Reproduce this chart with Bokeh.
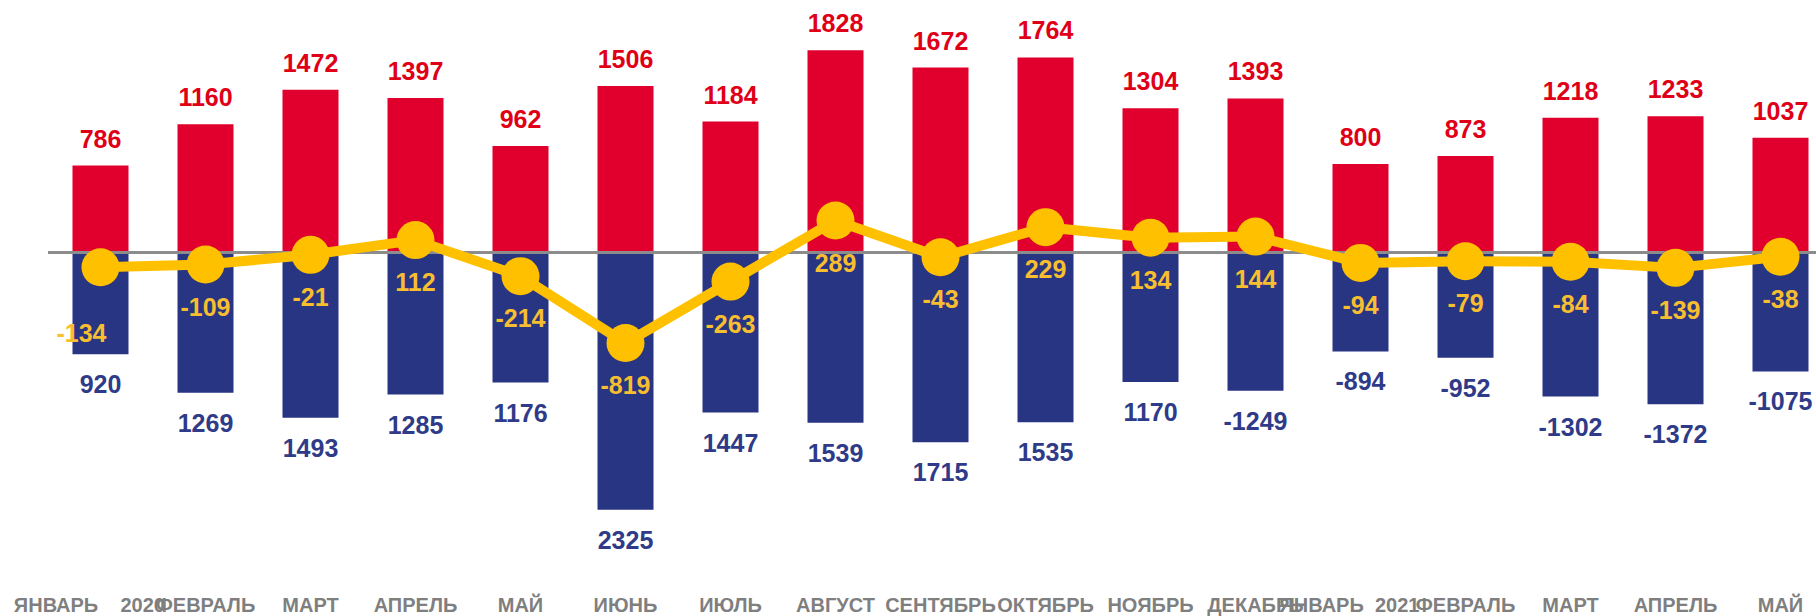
from bokeh.plotting import figure
from bokeh.models import ColumnDataSource, Range1d
from bokeh.core.properties import value
from bokeh.embed import file_html
from bokeh.resources import INLINE

# ---- data ----
months = ["ЯНВАРЬ 2020", "ФЕВРАЛЬ", "МАРТ", "АПРЕЛЬ", "МАЙ", "ИЮНЬ", "ИЮЛЬ", "АВГУСТ",
          "СЕНТЯБРЬ", "ОКТЯБРЬ", "НОЯБРЬ", "ДЕКАБРЬ", "ЯНВАРЬ 2021", "ФЕВРАЛЬ", "МАРТ",
          "АПРЕЛЬ", "МАЙ"]
exports = [786, 1160, 1472, 1397, 962, 1506, 1184, 1828, 1672, 1764, 1304, 1393, 800, 873,
           1218, 1233, 1037]
imports = [-920, -1269, -1493, -1285, -1176, -2325, -1447, -1539, -1715, -1535, -1170, -1249,
           -894, -952, -1302, -1372, -1075]
import_labels = ["920", "1269", "1493", "1285", "1176", "2325", "1447", "1539", "1715", "1535",
                 "1170", "-1249", "-894", "-952", "-1302", "-1372", "-1075"]
balance = [-134, -109, -21, 112, -214, -819, -263, 289, -43, 229, 134, 144, -94, -79, -84,
           -139, -38]

# ---- styling / layout ----
W, H = 1816, 616
PX_PER_UNIT = 0.1106
ZERO_PX = 252          # zero line, px from top of frame
CAT_PX = 105           # px per category
FIRST_PX = 100         # centre of first category, px from left of frame
FONT = value("Liberation Sans")

y_end = ZERO_PX / PX_PER_UNIT
y_start = y_end - H / PX_PER_UNIT
x_start = -FIRST_PX / CAT_PX
x_end = x_start + W / CAT_PX

n = len(months)
xs = list(range(n))

# spacing (non-breaking spaces: inner gap, trailing pad) for the two-word labels
label_pad = {0: (4, 4), 12: (2, 4)}

def disp(i, lbl):
    if i in label_pad:
        gap, trail = label_pad[i]
        return lbl.replace(" ", "\u00a0" * gap) + "\u00a0" * trail
    return lbl

# balance label nudges (px): first label sits lower-left
bal_dx = [-19] + [0] * (n - 1)
bal_dy = [66] + [42] * (n - 1)

src = ColumnDataSource(dict(
    x=xs, exp=exports, imp=imports, bal=balance,
    exp_lbl=[str(v) for v in exports], imp_lbl=import_labels,
    bal_lbl=[str(v) for v in balance], bal_dx=bal_dx, bal_dy=bal_dy,
    cat=[disp(i, m) for i, m in enumerate(months)], ybot=[y_start] * n,
))

p = figure(width=W, height=H, output_backend="svg", toolbar_location=None,
           x_range=Range1d(x_start, x_end), y_range=Range1d(y_start, y_end),
           min_border=0, outline_line_color=None, background_fill_color="white")
p.xaxis.visible = False
p.yaxis.visible = False
p.grid.visible = False

bw = 56 / CAT_PX
p.vbar(x="x", top="exp", bottom=0, width=bw, source=src, fill_color="#E1002D", line_color=None)
p.vbar(x="x", top=0, bottom="imp", width=bw, source=src, fill_color="#283583", line_color=None)

p.segment(x0=-0.5, x1=n - 0.5, y0=0, y1=0, line_color="#8C8C8C", line_width=3)

p.line(x="x", y="bal", source=src, line_color="#FFC000", line_width=10, line_join="round")
p.scatter(x="x", y="bal", source=src, size=38, fill_color="#FFC000", line_color=None)

p.text(x="x", y="exp", text="exp_lbl", source=src, y_offset=-27, text_align="center",
       text_baseline="middle", text_font=FONT, text_font_style="bold",
       text_font_size="25px", text_color="#DF0018")
p.text(x="x", y="imp", text="imp_lbl", source=src, y_offset=30, text_align="center",
       text_baseline="middle", text_font=FONT, text_font_style="bold",
       text_font_size="25px", text_color="#2F3B88")
p.text(x="x", y="bal", text="bal_lbl", source=src, x_offset="bal_dx", y_offset="bal_dy",
       text_align="center", text_baseline="middle", text_font=FONT, text_font_style="bold",
       text_font_size="25px", text_color="#F7BE2F")
p.text(x="x", y="ybot", text="cat", source=src, y_offset=-12, text_align="center",
       text_baseline="middle", text_font=FONT, text_font_style="bold",
       text_font_size="20px", text_color="#7F7F7F")

open("out.html", "w").write(file_html(p, INLINE))
